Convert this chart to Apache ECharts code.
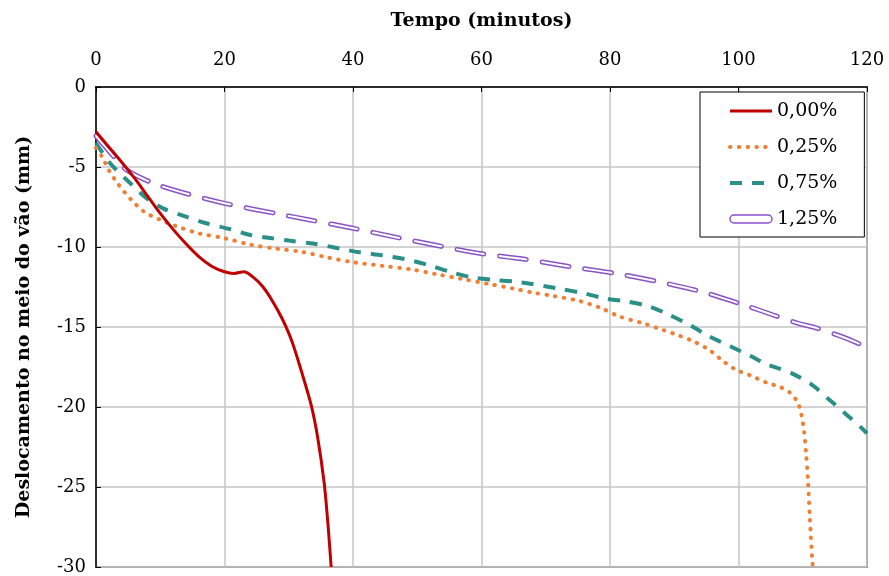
<!DOCTYPE html>
<html>
<head>
<meta charset="utf-8">
<script src="https://cdn.jsdelivr.net/npm/echarts@6/dist/echarts.min.js"></script>
<style>html,body{margin:0;padding:0;background:#fff;}#c{width:889px;height:576px;}</style>
</head>
<body>
<div id="c"></div>
<script>
const seriesNames = ['0,00%', '0,25%', '0,75%', '1,25%'];
const xTitle = 'Tempo (minutos)';
const yTitle = 'Deslocamento no meio do vão (mm)';

const s000 = [[0,-2.8],[2,-3.75],[4,-4.7],[6,-5.7],[8,-6.8],[10,-7.9],[12,-8.9],[14,-9.8],[16,-10.6],[18,-11.2],[20,-11.55],[21.5,-11.65],[23,-11.55],[24.5,-11.9],[26,-12.5],[27.5,-13.4],[29,-14.5],[30.5,-15.9],[32,-17.8],[33.5,-19.9],[34.5,-21.9],[35.5,-24.7],[36.1,-27.3],[36.6,-30]];
const s025 = [[0,-3.8],[1,-4.4],[2,-5.2],[3.5,-6.1],[5.5,-7.05],[7.5,-7.8],[10,-8.3],[12.5,-8.7],[16,-9.15],[20,-9.45],[24,-9.85],[28,-10.1],[32,-10.3],[36,-10.65],[40,-10.95],[45,-11.2],[49,-11.4],[53,-11.7],[57,-12.0],[61,-12.3],[65,-12.6],[68,-12.85],[71,-13.05],[75,-13.35],[78.5,-13.8],[81.5,-14.35],[85,-14.75],[88,-15.15],[90.5,-15.5],[93,-15.9],[95.5,-16.45],[97.5,-17.1],[99.5,-17.65],[102,-18.05],[104.5,-18.5],[106.5,-18.75],[108,-19.1],[109.2,-19.7],[109.8,-20.5],[110.2,-21.5],[110.5,-22.8],[110.8,-24.5],[111.1,-26.9],[111.5,-29.7],[111.6,-30]];
const s075 = [[0,-3.5],[2.2,-4.77],[5.3,-6.0],[7.9,-6.96],[10.5,-7.6],[14,-8.1],[17,-8.5],[21,-8.9],[24,-9.25],[27.5,-9.46],[30,-9.6],[34,-9.8],[38,-10.1],[41,-10.33],[44.5,-10.52],[48,-10.75],[51.5,-11.1],[55,-11.54],[58.5,-11.9],[62,-12.06],[66,-12.2],[72,-12.6],[76,-12.9],[79,-13.2],[82.5,-13.4],[86,-13.7],[89,-14.2],[92.5,-14.9],[95.5,-15.6],[98.7,-16.2],[101.8,-16.8],[104.5,-17.35],[106,-17.55],[108.3,-17.9],[111.4,-18.6],[114,-19.5],[116.6,-20.4],[119.4,-21.4],[120,-21.65]];
const s125 = [[0,-3.05],[3,-4.45],[4.8,-5.2],[8.7,-5.98],[13,-6.54],[20,-7.27],[28.6,-7.95],[33.3,-8.31],[40,-8.83],[46.8,-9.4],[53.5,-9.94],[60.3,-10.44],[66,-10.72],[73.8,-11.23],[80.8,-11.65],[87.5,-12.17],[94.3,-12.8],[100.7,-13.6],[105.4,-14.25],[109.3,-14.77],[112,-15.05],[115.8,-15.56],[118.4,-15.98],[120,-16.3]];

const xMin = 0, xMax = 120, xStep = 20;
const yMin = -30, yMax = 0, yStep = 5;

const FONT = 'DejaVu Serif';
const cRed = '#c00000', cOrange = '#f07f33', cTeal = '#2a8f88', cPurple = '#8a52c6';
const hidden = {color: 'rgba(0,0,0,0)', borderWidth: 0, opacity: 0};

const redStyle = {color: cRed, width: 3, type: 'solid'};
const orangeStyle = {color: cOrange, width: 4, type: [0.5, 8.3], cap: 'round'};
const tealStyle = {color: cTeal, width: 4, type: [12, 10], cap: 'butt'};

const chart = echarts.init(document.getElementById('c'), null, {renderer: 'canvas'});
chart.setOption({
  backgroundColor: '#fff',
  animation: false,
  grid: {left: 96, right: 22, top: 87, bottom: 9, show: true, borderColor: '#808080', borderWidth: 2, backgroundColor: 'transparent'},
  legend: {
    orient: 'vertical', left: 700, top: 92, align: 'left',
    padding: [9, 27, 8, 28], itemGap: 16, itemWidth: 42, itemHeight: 20,
    backgroundColor: '#fff', borderColor: '#000', borderWidth: 1,
    textStyle: {fontFamily: FONT, fontSize: 19, color: '#000', lineHeight: 20},
    itemStyle: hidden,
    data: [
      {name: seriesNames[0], lineStyle: {width: 3}},
      {name: seriesNames[1], lineStyle: {width: 4, cap: 'round'}},
      {name: seriesNames[2], lineStyle: {width: 4}},
      {name: seriesNames[3], icon: 'path://M3,0 H29 A3,3 0 0 1 29,6 H3 A3,3 0 0 1 3,0 Z', itemStyle: {color: '#fff', borderColor: cPurple, borderWidth: 1.5, opacity: 1}}
    ]
  },
  xAxis: {
    type: 'value', position: 'top', min: xMin, max: xMax, interval: xStep,
    name: xTitle, nameLocation: 'middle', nameGap: 56,
    nameTextStyle: {fontFamily: FONT, fontSize: 19, fontWeight: 'bold', color: '#000'},
    axisLine: {show: true, onZero: false, lineStyle: {color: '#000', width: 1.5}},
    axisTick: {show: true, inside: true, length: 5, lineStyle: {color: '#000'}},
    axisLabel: {fontFamily: FONT, fontSize: 18, color: '#000', margin: 18},
    splitLine: {show: true, lineStyle: {color: '#c4c4c4', width: 1.5}}
  },
  yAxis: {
    type: 'value', min: yMin, max: yMax, interval: yStep,
    name: yTitle, nameLocation: 'middle', nameGap: 62,
    nameTextStyle: {fontFamily: FONT, fontSize: 19, fontWeight: 'bold', color: '#000'},
    axisLine: {show: true, onZero: false, lineStyle: {color: '#000', width: 1.5}},
    axisTick: {show: true, inside: true, length: 5, lineStyle: {color: '#000'}},
    axisLabel: {fontFamily: FONT, fontSize: 18, color: '#000', margin: 10},
    splitLine: {show: true, lineStyle: {color: '#c4c4c4', width: 1.5}}
  },
  series: [
    {name: seriesNames[3], type: 'line', data: s125, symbol: 'none', smooth: 0.3, z: 2,
     lineStyle: {color: cPurple, width: 5, type: [27, 16], cap: 'round'}, itemStyle: {color: cPurple}},
    {name: 'inner', type: 'line', data: s125, symbol: 'none', smooth: 0.3, z: 3, silent: true,
     lineStyle: {color: '#fff', width: 2, type: [27, 16], cap: 'round'}, itemStyle: {color: '#fff'}},
    {name: seriesNames[2], type: 'line', data: s075, symbol: 'none', smooth: 0.3, z: 4,
     lineStyle: tealStyle, itemStyle: {color: cTeal}},
    {name: seriesNames[1], type: 'line', data: s025, symbol: 'none', smooth: 0.3, z: 5,
     lineStyle: orangeStyle, itemStyle: {color: cOrange}},
    {name: seriesNames[0], type: 'line', data: s000, symbol: 'none', smooth: 0.3, z: 6,
     lineStyle: redStyle, itemStyle: {color: cRed}}
  ]
});
</script>
</body>
</html>
